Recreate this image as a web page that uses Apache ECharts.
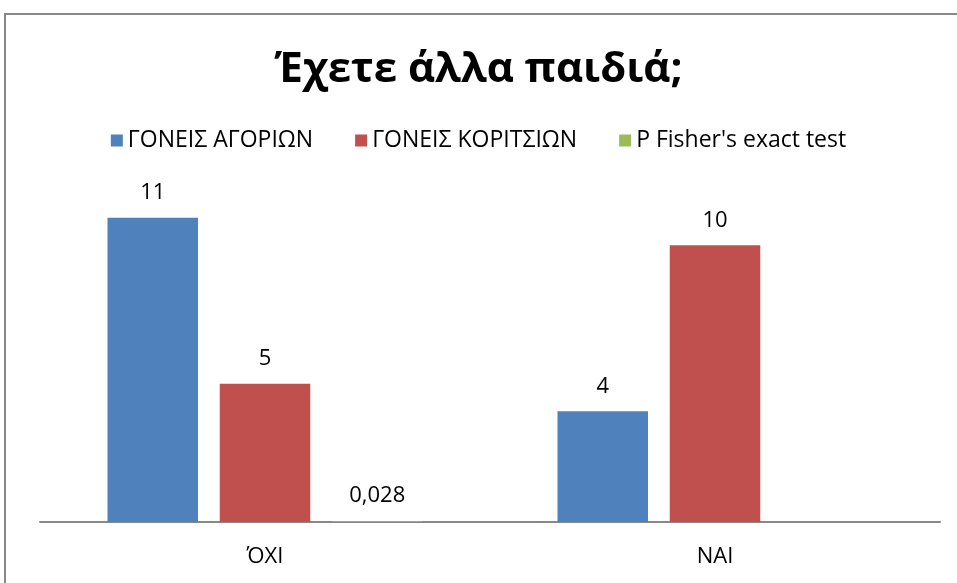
<!DOCTYPE html>
<html>
<head>
<meta charset="utf-8">
<script src="https://cdn.jsdelivr.net/npm/echarts@6/dist/echarts.min.js"></script>
<style>
  html, body { margin: 0; padding: 0; background: #fff; }
  #chart { width: 957px; height: 583px; }
</style>
</head>
<body>
<div id="chart"></div>
<script>
// data
const categories = ['ΌΧΙ', 'ΝΑΙ'];
const seriesNames = ['ΓΟΝΕΙΣ ΑΓΟΡΙΩΝ', 'ΓΟΝΕΙΣ ΚΟΡΙΤΣΙΩΝ', "P Fisher's exact test"];
const boys = [11, 4];
const girls = [5, 10];
const fisherP = [0.028, null];
const colors = ['#4F81BD', '#C0504D', '#9BBB59'];

const fontFamily = '"Open Sans", "Noto Sans", sans-serif';

const chart = echarts.init(document.getElementById('chart'));

function makeSeries(name, data, color) {
    return {
        name: name,
        type: 'bar',
        data: data,
        barGap: '24%',
        barCategoryGap: '30%',
        itemStyle: { color: color },
        label: {
            show: true,
            position: 'top',
            distance: 14,
            color: '#000',
            fontSize: 22,
            fontFamily: fontFamily,
            formatter: p => String(p.value).replace('.', ',')
        }
    };
}

chart.setOption({
    animation: false,
    title: {
        text: 'Έχετε άλλα παιδιά;',
        left: 'center',
        top: 44,
        textStyle: {
            fontSize: 42,
            fontWeight: 'bold',
            color: '#000',
            fontFamily: fontFamily
        }
    },
    legend: {
        top: 124,
        left: 'center',
        itemWidth: 12,
        itemHeight: 12,
        itemGap: 42,
        icon: 'rect',
        textStyle: { fontSize: 23, color: '#000', fontFamily: fontFamily }
    },
    grid: { left: 40, right: 17, top: 190, bottom: 61 },
    xAxis: {
        type: 'category',
        data: categories,
        axisLine: { lineStyle: { color: '#888', width: 2 } },
        axisTick: { show: false },
        axisLabel: { fontSize: 22, color: '#000', margin: 24, fontFamily: fontFamily }
    },
    yAxis: {
        type: 'value',
        min: 0,
        max: 12,
        show: false,
        splitLine: { show: false }
    },
    graphic: [{
        type: 'rect',
        z: -1,
        shape: { x: 5, y: 14, width: 1000, height: 1000 },
        style: { fill: 'none', stroke: '#888', lineWidth: 2 }
    }],
    series: [
        makeSeries(seriesNames[0], boys, colors[0]),
        makeSeries(seriesNames[1], girls, colors[1]),
        makeSeries(seriesNames[2], fisherP, colors[2])
    ]
});

window.addEventListener('resize', () => chart.resize());
</script>
</body>
</html>
